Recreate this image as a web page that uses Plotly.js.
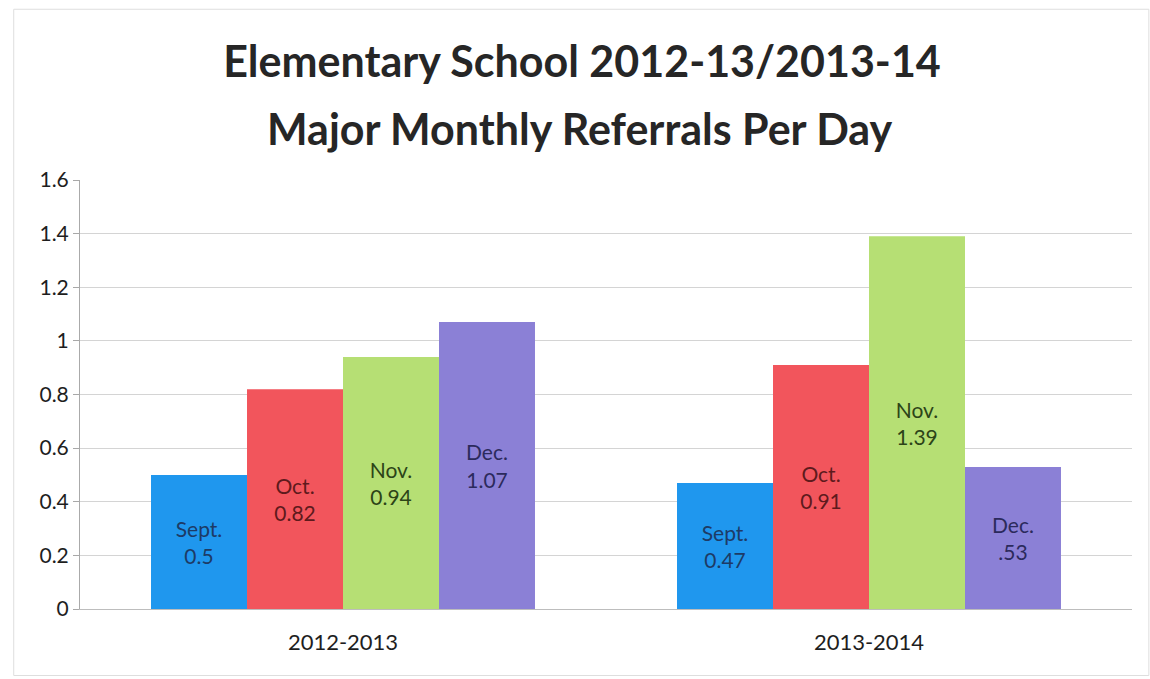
<!DOCTYPE html>
<html>
<head>
<meta charset="utf-8">
<script src="https://cdn.plot.ly/plotly-3.0.1.min.js"></script>
<style>html,body{margin:0;padding:0;background:#fff;}#chart{width:1150px;height:679px;}</style>
</head>
<body>
<div id="chart"></div>
<script>
const years = ['2012-2013', '2013-2014'];
const months = ['Sept.', 'Oct.', 'Nov.', 'Dec.'];
const sept = [0.5, 0.47];
const oct = [0.82, 0.91];
const nov = [0.94, 1.39];
const dec = [1.07, 0.53];
const valueLabels = {
  'Sept.': ['0.5', '0.47'],
  'Oct.': ['0.82', '0.91'],
  'Nov.': ['0.94', '1.39'],
  'Dec.': ['1.07', '.53']
};
const yTicks = [0, 0.2, 0.4, 0.6, 0.8, 1, 1.2, 1.4, 1.6];
const yTickText = ['0', '0.2', '0.4', '0.6', '0.8', '1', '1.2', '1.4', '1.6'];
const titleLine1 = 'Elementary School 2012-13/2013-14';
const titleLine2 = 'Major Monthly Referrals Per Day';

const series = [sept, oct, nov, dec];
const colors = ['#1f97ee', '#f2555c', '#b6df74', '#8b80d6'];
const textColors = ['#1d3b66', '#5e1a1c', '#2c4418', '#2b2a5c'];
const FONT = 'Lato, "Open Sans", sans-serif';

const traces = series.map((vals, i) => ({
  type: 'bar',
  name: months[i],
  x: years,
  y: vals,
  text: valueLabels[months[i]].map(v => months[i] + '<br>' + v),
  textposition: 'inside',
  insidetextanchor: 'middle',
  textangle: 0,
  constraintext: 'none',
  textfont: {family: FONT, size: 21, color: textColors[i]},
  marker: {color: colors[i], line: {width: 0}},
  hoverinfo: 'x+y'
}));

const layout = {
  width: 1150,
  height: 679,
  paper_bgcolor: '#ffffff',
  plot_bgcolor: '#ffffff',
  showlegend: false,
  barmode: 'group',
  bargap: 0.27,
  bargroupgap: 0,
  margin: {l: 80, r: 18, t: 180, b: 70},
  title: {
    text: titleLine1,
    font: {family: FONT, size: 43, color: '#262626', weight: 'bold'},
    x: 582 / 1150,
    xanchor: 'center',
    xref: 'container',
    y: 1 - 62 / 679,
    yanchor: 'middle'
  },
  annotations: [{
    text: titleLine2,
    xref: 'paper', yref: 'paper',
    x: (580 - 80) / 1052, xanchor: 'center',
    y: (609 - 128) / 429, yanchor: 'middle',
    showarrow: false,
    font: {family: FONT, size: 43, color: '#262626', weight: 'bold'}
  }],
  shapes: [{
    type: 'rect', xref: 'paper', yref: 'paper',
    x0: -0.063, x1: 1.016, y0: -0.155, y1: 1.398,
    line: {color: '#dedede', width: 1},
    layer: 'below'
  }],
  xaxis: {
    type: 'category',
    tickfont: {family: FONT, size: 22, color: '#1e1e1e'},
    ticklabelstandoff: 14,
    showline: true,
    linecolor: '#bdbdbd',
    linewidth: 1,
    ticks: '',
    showgrid: false
  },
  yaxis: {
    range: [0, 1.6],
    tickvals: yTicks,
    ticktext: yTickText,
    tickfont: {family: FONT, size: 21, color: '#1e1e1e'},
    ticks: 'outside',
    ticklen: 6,
    tickcolor: '#a8a8a8',
    showline: true,
    linecolor: '#aaaaaa',
    linewidth: 1,
    showgrid: true,
    gridcolor: '#d4d4d4',
    gridwidth: 1,
    zeroline: false,
    fixedrange: true
  }
};

Plotly.newPlot('chart', traces, layout, {displayModeBar: false, staticPlot: true});
</script>
</body>
</html>
